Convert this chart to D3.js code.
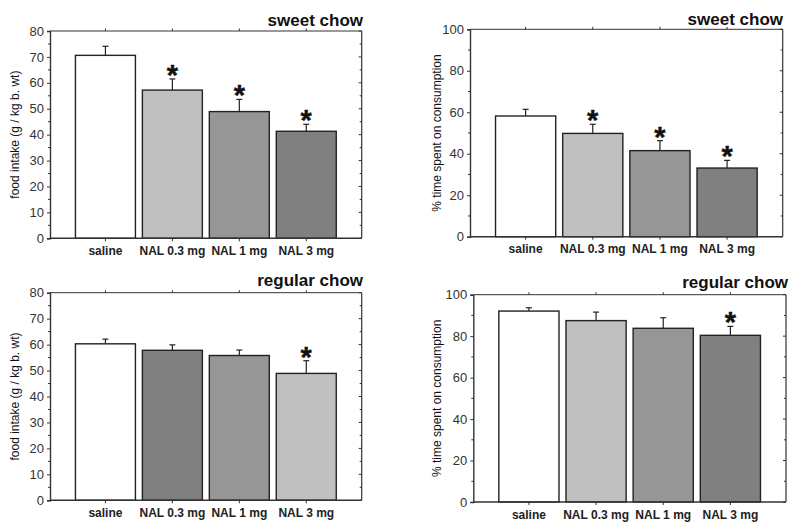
<!DOCTYPE html>
<html>
<head>
<meta charset="utf-8">
<script src="https://cdn.jsdelivr.net/npm/d3@7"></script>
<style>
  html, body { margin: 0; padding: 0; background: #fff; }
  svg { display: block; font-family: "Liberation Sans", Arial, sans-serif; }
</style>
</head>
<body>
<svg id="chart" width="800" height="532"></svg>
<script>
// ---- data ----
const categories = ["saline", "NAL 0.3 mg", "NAL 1 mg", "NAL 3 mg"];

const sweetIntake = [70.6, 57.2, 48.9, 41.3];
const sweetIntakeErr = [3.5, 4.3, 4.7, 2.7];
const sweetIntakeSig = [false, true, true, true];

const sweetTime = [58.2, 49.8, 41.5, 33.1];
const sweetTimeErr = [3.2, 4.4, 4.8, 3.7];
const sweetTimeSig = [false, true, true, true];

const regularIntake = [60.3, 57.8, 55.8, 48.9];
const regularIntakeErr = [1.8, 2.1, 2.1, 4.9];
const regularIntakeSig = [false, false, false, true];

const regularTime = [92.1, 87.5, 83.8, 80.4];
const regularTimeErr = [1.6, 4.1, 5.1, 4.3];
const regularTimeSig = [false, false, false, true];

const intakeTicks = [0, 10, 20, 30, 40, 50, 60, 70, 80];
const timeTicks = [0, 20, 40, 60, 80, 100];

const fillsStandard = ["#ffffff", "#c0c0c0", "#969696", "#808080"];
const fillsRegularIntake = ["#ffffff", "#808080", "#969696", "#c0c0c0"];

const titles = ["sweet chow", "sweet chow", "regular chow", "regular chow"];
const yLabels = ["food intake (g / kg b. wt)", "% time spent on consumption",
                 "food intake (g / kg b. wt)", "% time spent on consumption"];

// ---- panels (layout) ----
const panels = [
  { L: 50,    R: 361.7, T: 31,    B: 238.3, vals: sweetIntake,   err: sweetIntakeErr,   sig: sweetIntakeSig,   fills: fillsStandard,      ticks: intakeTicks, minor: 5,  title: titles[0], ylab: yLabels[0], titleX: 363, titleY: 26,  labX: 19 },
  { L: 470,   R: 782.7, T: 29.3,  B: 236.7, vals: sweetTime,     err: sweetTimeErr,     sig: sweetTimeSig,     fills: fillsStandard,      ticks: timeTicks,   minor: 10, title: titles[1], ylab: yLabels[1], titleX: 783, titleY: 25,  labX: 441 },
  { L: 50,    R: 361.7, T: 292.7, B: 500.3, vals: regularIntake, err: regularIntakeErr, sig: regularIntakeSig, fills: fillsRegularIntake, ticks: intakeTicks, minor: 5,  title: titles[2], ylab: yLabels[2], titleX: 363, titleY: 286, labX: 19 },
  { L: 473.3, R: 786,   T: 294.7, B: 502,   vals: regularTime,   err: regularTimeErr,   sig: regularTimeSig,   fills: fillsStandard,      ticks: timeTicks,   minor: 10, title: titles[3], ylab: yLabels[3], titleX: 788, titleY: 287.7, labX: 441 }
];

const svg = d3.select("#chart");
const axisColor = "#333";

panels.forEach(p => {
  const g = svg.append("g");
  const ymax = d3.max(p.ticks);
  const y = d3.scaleLinear().domain([0, ymax]).range([p.B, p.T]);
  const x = d3.scaleBand().domain(categories).range([p.L, p.R])
    .paddingInner(0.104).paddingOuter(0.38);

  const minorTicks = d3.range(0, ymax + 0.001, p.minor).filter(v => !p.ticks.includes(v));

  // top frame line with category ticks
  g.append("line").attr("x1", p.L).attr("x2", p.R).attr("y1", p.T).attr("y2", p.T)
    .attr("stroke", axisColor).attr("stroke-width", 1);
  g.selectAll(".tt").data(categories).join("line")
    .attr("x1", d => x(d) + x.bandwidth() / 2).attr("x2", d => x(d) + x.bandwidth() / 2)
    .attr("y1", p.T).attr("y2", p.T - 2.5).attr("stroke", axisColor);

  // right frame line with inward ticks
  g.append("line").attr("x1", p.R).attr("x2", p.R).attr("y1", p.T).attr("y2", p.B)
    .attr("stroke", axisColor).attr("stroke-width", 1.2);
  g.selectAll(".rt").data(p.ticks).join("line")
    .attr("x1", p.R).attr("x2", p.R - 3).attr("y1", d => y(d)).attr("y2", d => y(d))
    .attr("stroke", axisColor);
  g.selectAll(".rm").data(minorTicks).join("line")
    .attr("x1", p.R).attr("x2", p.R - 2).attr("y1", d => y(d)).attr("y2", d => y(d))
    .attr("stroke", axisColor);

  // bars
  g.selectAll(".bar").data(p.vals).join("rect")
    .attr("x", (d, i) => x(categories[i]))
    .attr("width", x.bandwidth())
    .attr("y", d => y(d))
    .attr("height", d => p.B - y(d))
    .attr("fill", (d, i) => p.fills[i])
    .attr("stroke", "#222").attr("stroke-width", 1.4);

  // error bars (upper only)
  const cx = i => x(categories[i]) + x.bandwidth() / 2;
  g.selectAll(".ev").data(p.vals).join("line")
    .attr("x1", (d, i) => cx(i)).attr("x2", (d, i) => cx(i))
    .attr("y1", d => y(d)).attr("y2", (d, i) => y(d + p.err[i]))
    .attr("stroke", "#222").attr("stroke-width", 1.2);
  g.selectAll(".ec").data(p.vals).join("line")
    .attr("x1", (d, i) => cx(i) - 3).attr("x2", (d, i) => cx(i) + 3)
    .attr("y1", (d, i) => y(d + p.err[i])).attr("y2", (d, i) => y(d + p.err[i]))
    .attr("stroke", "#222").attr("stroke-width", 1.2);

  // asterisks
  g.selectAll(".ast").data(p.vals.map((d, i) => ({ d, i })).filter(o => p.sig[o.i])).join("text")
    .attr("x", o => cx(o.i))
    .attr("y", o => y(o.d + p.err[o.i]) + 6)
    .attr("text-anchor", "middle")
    .attr("font-size", 29).attr("font-weight", "bold").attr("fill", "#111")
    .attr("stroke", "#111").attr("stroke-width", 0.4)
    .text("*");

  // left axis
  const yAxis = d3.axisLeft(y).tickValues(p.ticks).tickSize(3).tickPadding(3).tickFormat(d3.format("d"));
  const ya = g.append("g").attr("transform", `translate(${p.L},0)`).call(yAxis);
  ya.select(".domain").attr("stroke", axisColor).attr("stroke-width", 1.4);
  ya.selectAll(".tick line").attr("stroke", axisColor);
  ya.selectAll(".tick text").attr("font-size", 13).attr("fill", "#333")
    .attr("font-family", "'Liberation Sans', Arial, sans-serif");
  g.selectAll(".lm").data(minorTicks).join("line")
    .attr("x1", p.L).attr("x2", p.L - 2).attr("y1", d => y(d)).attr("y2", d => y(d))
    .attr("stroke", axisColor);

  // bottom axis
  const xAxis = d3.axisBottom(x).tickSize(3).tickPadding(5);
  const xa = g.append("g").attr("transform", `translate(0,${p.B})`).call(xAxis);
  xa.select(".domain").attr("stroke", axisColor).attr("stroke-width", 1.4)
    .attr("d", `M${p.L},0H${p.R}`);
  xa.selectAll(".tick line").attr("stroke", axisColor);
  xa.selectAll(".tick text").attr("font-size", 12).attr("font-weight", "bold").attr("fill", "#222")
    .attr("font-family", "'Liberation Sans', Arial, sans-serif");

  // y label
  g.append("text")
    .attr("transform", `translate(${p.labX},${(p.T + p.B) / 2}) rotate(-90)`)
    .attr("text-anchor", "middle")
    .attr("font-size", 12).attr("fill", "#111")
    .text(p.ylab);

  // title
  g.append("text")
    .attr("x", p.titleX).attr("y", p.titleY)
    .attr("text-anchor", "end")
    .attr("font-size", 17).attr("font-weight", "bold").attr("fill", "#111")
    .text(p.title);
});
</script>
</body>
</html>
